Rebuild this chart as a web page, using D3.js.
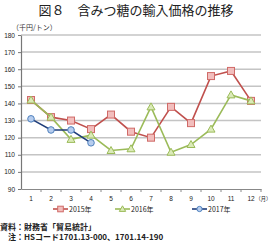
<!DOCTYPE html>
<html>
<head>
<meta charset="utf-8">
<script src="https://cdn.jsdelivr.net/npm/d3@7"></script>
<style>
  body { margin: 0; background: #fff; }
  svg { font-family: "Noto Sans CJK JP", sans-serif; display: block; }
</style>
</head>
<body>
<div id="chart"></div>
<script>
const months = [1, 2, 3, 4, 5, 6, 7, 8, 9, 10, 11, 12];
const yTicks = [90, 100, 110, 120, 130, 140, 150, 160, 170, 180];
const v2015 = [142, 132, 130, 125, 133.5, 123.5, 120, 138, 128.5, 156, 159, 141.5];
const v2016 = [142, 132, 119, 121.5, 112.5, 113.5, 138, 111.5, 116, 125, 145, 141.5];
const v2017 = [131, 124.5, 124.5, 117];

const width = 271, height = 241;
const margin = {top: 35, left: 21, right: 10, bottom: 52};

const svg = d3.select("#chart")
    .append("svg")
    .attr("width", width)
    .attr("height", height);

const xScale = d3.scaleBand()
    .domain(months)
    .range([margin.left, width - margin.right]);

const yScale = d3.scaleLinear()
    .domain([90, 180])
    .range([height - margin.bottom, margin.top]);

// title
svg.append("text")
    .attr("x", 136)
    .attr("y", 15)
    .attr("text-anchor", "middle")
    .attr("font-size", 13)
    .attr("fill", "#222")
    .text("図８　含みつ糖の輸入価格の推移");

svg.append("text")
    .attr("x", 12)
    .attr("y", 30)
    .attr("font-size", 7)
    .attr("fill", "#333")
    .text("（千円/トン）");

// gridlines
svg.selectAll(".grid")
    .data(yTicks.filter(d => d > 90))
    .enter()
    .append("line")
        .attr("x1", margin.left)
        .attr("x2", width - margin.right)
        .attr("y1", d => yScale(d))
        .attr("y2", d => yScale(d))
        .attr("stroke", "#c4c4c4")
        .attr("stroke-width", 1.5);

// y axis
const yAxis = svg.append("g")
    .attr("transform", `translate(${margin.left},0)`)
    .call(d3.axisLeft(yScale).tickValues(yTicks).tickSize(3).tickSizeOuter(0));
yAxis.select(".domain").attr("stroke", "#777").attr("stroke-width", 1.2);
yAxis.selectAll(".tick line").attr("stroke", "#777");
yAxis.selectAll("text").attr("font-size", 6.5).attr("fill", "#222")
    .attr("x", -6).attr("text-anchor", "end");

// x axis
const xAxis = svg.append("g")
    .attr("transform", `translate(0,${height - margin.bottom})`)
    .call(d3.axisBottom(xScale).tickSize(0).tickPadding(7));
xAxis.select(".domain").attr("stroke", "#888").attr("stroke-width", 1.2);
xAxis.selectAll("text").attr("font-size", 6.5).attr("fill", "#222");

// category separator ticks
svg.selectAll(".xtick")
    .data(months)
    .enter()
    .append("line")
        .attr("x1", d => xScale(d) + xScale.bandwidth())
        .attr("x2", d => xScale(d) + xScale.bandwidth())
        .attr("y1", height - margin.bottom)
        .attr("y2", height - margin.bottom + 3)
        .attr("stroke", "#888");

svg.append("text")
    .attr("x", 255.5)
    .attr("y", height - margin.bottom + 12)
    .attr("font-size", 5.2)
    .attr("fill", "#222")
    .text("（月）");

const xPos = (d, i) => xScale(months[i]) + xScale.bandwidth() / 2;

const series = [
    {name: "2015年", values: v2015, line: "#c0504d", stroke: "#d06a67", fill: "#f2bebd", shape: "square"},
    {name: "2016年", values: v2016, line: "#9bbb59", stroke: "#9bbb59", fill: "#dbeab8", shape: "triangle"},
    {name: "2017年", values: v2017, line: "#1f3d7a", stroke: "#4f81bd", fill: "#b7cdee", shape: "circle"}
];

const line = d3.line()
    .x(xPos)
    .y(d => yScale(d));

function marker(g, s, x, y, k) {
    k = k || 1;
    if (s.shape === "square") {
        g.append("rect").attr("x", x - 3.5 * k).attr("y", y - 3.5 * k)
            .attr("width", 7 * k).attr("height", 7 * k)
            .attr("fill", s.fill).attr("stroke", s.stroke).attr("stroke-width", 1);
    } else if (s.shape === "triangle") {
        g.append("path")
            .attr("d", `M${x},${y - 4 * k}L${x + 4 * k},${y + 3 * k}L${x - 4 * k},${y + 3 * k}Z`)
            .attr("fill", s.fill).attr("stroke", s.stroke).attr("stroke-width", 1);
    } else {
        g.append("circle").attr("cx", x).attr("cy", y).attr("r", 3.3 * k)
            .attr("fill", s.fill).attr("stroke", s.stroke).attr("stroke-width", 1);
    }
}

series.forEach(function(s) {
    svg.append("path")
        .datum(s.values)
        .attr("d", line)
        .attr("fill", "none")
        .attr("stroke", s.line)
        .attr("stroke-width", 1.6);
    const g = svg.append("g");
    s.values.forEach(function(v, i) {
        marker(g, s, xPos(v, i), yScale(v));
    });
});

// legend
const legendX = [53, 115, 192];
series.forEach(function(s, i) {
    const lx = legendX[i], ly = 209;
    svg.append("line")
        .attr("x1", lx).attr("x2", lx + 15)
        .attr("y1", ly).attr("y2", ly)
        .attr("stroke", s.line).attr("stroke-width", 1.6);
    marker(svg, s, lx + 7.5, ly, 0.8);
    svg.append("text")
        .attr("x", lx + 16)
        .attr("y", ly + 2.5)
        .attr("font-size", 7)
        .attr("fill", "#222")
        .text(s.name);
});

// notes
svg.append("text")
    .attr("x", 0)
    .attr("y", 229.5)
    .attr("font-size", 8)
    .attr("font-weight", "bold")
    .attr("fill", "#222")
    .text("資料：財務省「貿易統計」");

svg.append("text")
    .attr("x", 8)
    .attr("y", 239.5)
    .attr("font-size", 8)
    .attr("font-weight", "bold")
    .attr("fill", "#222")
    .text("注：HSコード1701.13-000、1701.14-190");
</script>
</body>
</html>
